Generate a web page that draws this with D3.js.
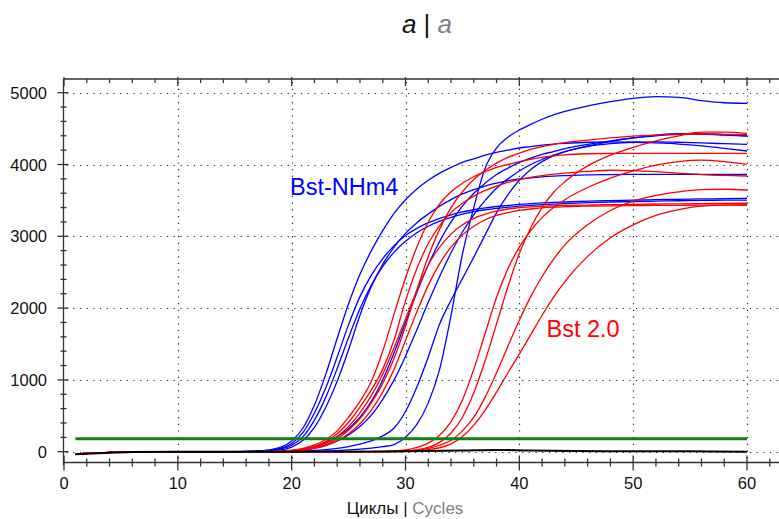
<!DOCTYPE html>
<html><head><meta charset="utf-8">
<script src="https://cdn.jsdelivr.net/npm/d3@7"></script>
<style>body{margin:0;background:#fff}svg{display:block;font-family:"Liberation Sans",Arial,sans-serif}</style>
</head><body><svg id="c" width="779" height="519"></svg>
<script>
const cycles = [1,8,14,17,19,20,21,22,23,24,25,26,27,28,29,30,31,32,33,34,35,36,37,38,39,40,41,42,43,44,46,48,50,52,54,56,58,60];

const blueB1 = [-30,0,0,10,60,150,330,650,1080,1580,2060,2470,2800,3080,3320,3510,3660,3780,3880,3960,4030,4080,4130,4170,4200,4230,4250,4270,4285,4295,4310,4315,4310,4300,4285,4260,4225,4188];
const blueB2 = [-30,0,0,8,45,115,270,540,890,1320,1770,2160,2460,2690,2870,3010,3110,3190,3250,3300,3340,3370,3395,3415,3430,3445,3455,3465,3472,3478,3490,3498,3505,3510,3515,3520,3525,3530];
const blueB3 = [-30,0,0,5,35,90,210,440,760,1160,1590,1990,2320,2580,2780,2930,3050,3140,3210,3265,3310,3345,3370,3390,3405,3420,3430,3440,3448,3455,3468,3478,3485,3490,3495,3500,3503,3505];
const blueB4 = [-30,0,0,3,25,65,160,340,620,980,1420,1900,2300,2610,2850,3040,3190,3310,3420,3510,3590,3650,3700,3740,3775,3800,3815,3828,3838,3845,3855,3860,3862,3862,3863,3863,3863,3863];
const blueB5 = [-30,0,0,0,5,15,35,70,130,210,320,480,700,1000,1380,1800,2220,2600,2930,3200,3420,3600,3740,3860,3950,4030,4090,4140,4180,4220,4280,4330,4370,4400,4420,4420,4410,4397];
const blueB6 = [-30,0,0,0,3,10,25,50,90,150,235,350,510,730,1000,1330,1700,2080,2440,2770,3060,3300,3500,3670,3800,3910,4000,4070,4130,4180,4260,4320,4370,4410,4430,4430,4415,4400];
const blueB7 = [-30,0,0,0,0,5,10,18,30,45,70,105,150,220,330,560,900,1320,1780,2110,2410,2710,3020,3330,3580,3780,3930,4040,4120,4180,4250,4290,4310,4315,4310,4300,4290,4281];
const blueB8 = [-30,0,0,0,0,0,0,5,10,15,25,35,50,70,100,200,380,680,1150,1900,2750,3400,3950,4230,4380,4480,4560,4630,4690,4740,4815,4875,4922,4944,4935,4890,4860,4852];

const redM1 = [-30,0,0,0,8,20,45,95,170,290,480,700,980,1400,1920,2420,2850,3200,3450,3620,3740,3830,3900,3960,4000,4040,4070,4100,4120,4135,4150,4155,4155,4155,4155,4155,4155,4155];
const redM2 = [-30,0,0,0,5,15,35,75,140,250,410,620,860,1150,1560,2100,2550,2900,3150,3330,3460,3560,3640,3700,3750,3790,3820,3845,3865,3880,3905,3920,3915,3900,3880,3860,3848,3840];
const redM3 = [-30,0,0,0,5,12,30,65,120,210,350,540,780,1080,1450,1850,2250,2600,2850,3030,3160,3250,3310,3350,3380,3400,3410,3420,3425,3430,3435,3440,3445,3450,3452,3455,3458,3460];
const redM4 = [-30,0,0,0,3,10,25,55,100,180,300,460,680,950,1300,1750,2250,2720,3100,3400,3620,3790,3920,4020,4100,4160,4210,4250,4280,4305,4340,4370,4395,4410,4420,4425,4420,4415];
const redM5 = [-30,0,0,0,2,8,20,45,85,150,250,390,580,830,1150,1550,1950,2320,2620,2850,3020,3140,3230,3290,3330,3360,3380,3395,3405,3412,3420,3425,3428,3430,3432,3434,3435,3436];
const redL1 = [-30,0,0,0,0,0,0,0,0,0,0,0,2,5,10,25,60,120,230,420,720,1150,1650,2150,2550,2850,3080,3260,3400,3510,3680,3810,3910,3990,4040,4060,4040,4002];
const redL2 = [-30,0,0,0,0,0,0,0,0,0,0,0,0,2,5,10,25,60,130,260,480,820,1270,1780,2300,2760,3120,3400,3610,3760,3980,4130,4240,4330,4400,4450,4450,4434];
const redL3 = [-30,0,0,0,0,0,0,0,0,0,0,0,0,0,3,8,20,45,90,160,290,480,760,1100,1470,1830,2160,2440,2680,2880,3160,3360,3490,3570,3620,3650,3655,3645];
const redL4 = [-30,0,0,0,0,0,0,0,0,0,0,0,0,0,2,6,15,30,55,110,210,370,580,830,1100,1360,1630,1900,2150,2370,2720,2980,3160,3290,3370,3420,3435,3436];

const blackCycles = [1,3,6,10,20,30,35,38,41,45,50,55,60];
const blackValues = [-35,-20,-5,0,0,5,15,25,15,10,5,5,0];
const thresholdValue = 180;
const thresholdCycles = [1,60];

const xTickValues = [0,10,20,30,40,50,60];
const yTickValues = [0,1000,2000,3000,4000,5000];

const blueSeries = [blueB1,blueB2,blueB3,blueB4,blueB5,blueB6,blueB7,blueB8];
const redSeries = [redM1,redM2,redM3,redM4,redM5,redL1,redL2,redL3,redL4];

const svg = d3.select("#c");
const pL = 63.5, pT = 79, pB = 462.5, pR = 779;
const x = d3.scaleLinear().domain([0,60]).range([64,747]);
const y = d3.scaleLinear().domain([0,5000]).range([451.7,92.7]);

svg.append("defs").append("clipPath").attr("id","pc").append("rect")
  .attr("x",pL).attr("y",pT).attr("width",pR-pL).attr("height",pB-pT);

const grid = svg.append("g").attr("stroke","#222").attr("stroke-width",1.2).attr("stroke-dasharray","1.2,5.5");
grid.selectAll("line.h").data(yTickValues).join("line").attr("class","h")
  .attr("x1",pL+3).attr("x2",pR).attr("y1",d=>Math.round(y(d))+0.5).attr("y2",d=>Math.round(y(d))+0.5);
grid.selectAll("line.v").data(xTickValues.filter(d=>d>0)).join("line").attr("class","v")
  .attr("y1",pT+3).attr("y2",pB).attr("x1",d=>Math.round(x(d))+0.5).attr("x2",d=>Math.round(x(d))+0.5);

const plot = svg.append("g").attr("clip-path","url(#pc)");
const line = d3.line().x((d,i)=>x(cycles[i])).y(d=>y(d)).curve(d3.curveMonotoneX);
plot.selectAll("path.b").data(blueSeries).join("path").attr("class","b")
  .attr("fill","none").attr("stroke","#0000ff").attr("stroke-width",1.3).attr("d",line);
plot.selectAll("path.r").data(redSeries).join("path").attr("class","r")
  .attr("fill","none").attr("stroke","#ff0000").attr("stroke-width",1.3).attr("d",line);

plot.append("path").attr("fill","none").attr("stroke","#128012").attr("stroke-width",3)
  .attr("d",d3.line().x(d=>x(d)).y(()=>y(thresholdValue))(thresholdCycles));
plot.append("path").attr("fill","none").attr("stroke","#000").attr("stroke-width",2)
  .attr("d",d3.line().x((d,i)=>x(blackCycles[i])).y(d=>y(d)).curve(d3.curveMonotoneX)(blackValues));

const ax = svg.append("g").attr("stroke","#333").attr("stroke-width",1.3);
ax.append("line").attr("x1",pL).attr("x2",pL).attr("y1",pT).attr("y2",pB+3);
ax.append("line").attr("x1",pL).attr("x2",pR).attr("y1",pT).attr("y2",pT);
ax.append("line").attr("x1",pL).attr("x2",pR).attr("y1",pB).attr("y2",pB);

const xMinor = d3.range(0,64,2);
ax.selectAll("line.xb").data(xMinor).join("line").attr("class","xb")
  .attr("x1",d=>x(d)).attr("x2",d=>x(d))
  .attr("y1",d=>d%10===0?pB-7:pB-4).attr("y2",d=>d%10===0?pB+8:pB+4);
ax.selectAll("line.xt").data(xMinor).join("line").attr("class","xt")
  .attr("x1",d=>x(d)).attr("x2",d=>x(d))
  .attr("y1",d=>d%10===0?pT-2:pT).attr("y2",d=>d%10===0?pT+7:pT+4);
const yMinor = d3.range(0,5200,200);
ax.selectAll("line.yl").data(yMinor).join("line").attr("class","yl")
  .attr("y1",d=>y(d)).attr("y2",d=>y(d))
  .attr("x1",d=>d%1000===0?pL-6:pL-3).attr("x2",d=>d%1000===0?pL+5:pL+3);

const lab = svg.append("g").attr("fill","#111").attr("font-size","16.5px");
lab.selectAll("text.y").data(yTickValues).join("text").attr("class","y")
  .attr("x",47).attr("y",d=>y(d)+6).attr("text-anchor","end").text(d=>d);
lab.selectAll("text.x").data(xTickValues).join("text").attr("class","x")
  .attr("x",d=>x(d)).attr("y",489).attr("text-anchor","middle").text(d=>d);

const xt = svg.append("text").attr("x",405).attr("y",514).attr("text-anchor","middle").attr("font-size","17px");
xt.append("tspan").attr("fill","#111").text("Циклы | ");
xt.append("tspan").attr("fill","#808080").text("Cycles");

const tt = svg.append("text").attr("x",427).attr("y",33).attr("text-anchor","middle").attr("font-size","26px").attr("font-style","italic");
tt.append("tspan").attr("fill","#111").text("a");
tt.append("tspan").attr("fill","#111").attr("font-style","normal").text(" | ");
tt.append("tspan").attr("fill","#808080").text("a");

svg.append("text").attr("x",290).attr("y",194.5).attr("font-size","23.5px").attr("fill","#0000ff").text("Bst-NHm4");
svg.append("text").attr("x",546.5).attr("y",336.5).attr("font-size","23.5px").attr("fill","#ff0000").text("Bst 2.0");
</script></body></html>
